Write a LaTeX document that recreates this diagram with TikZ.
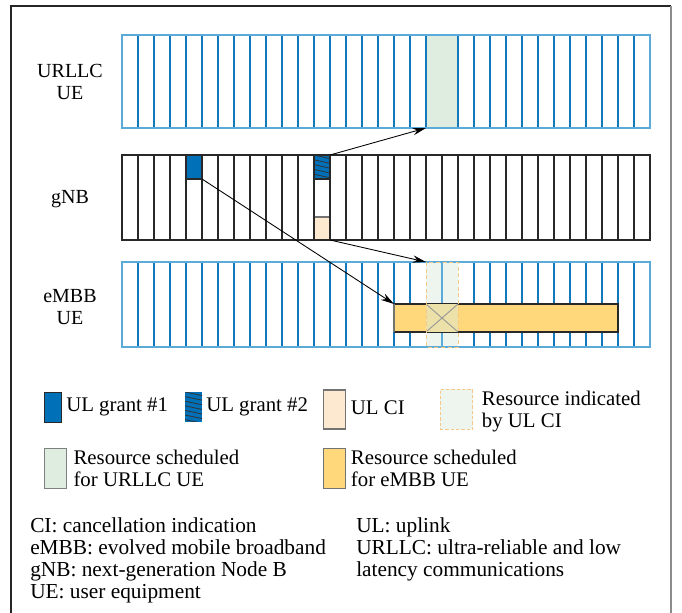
\documentclass[tikz,border=0pt]{standalone}
\usepackage{fontspec}
\setmainfont{Liberation Serif}
\usetikzlibrary{arrows.meta,fit}

\definecolor{uelight}{RGB}{90,170,218}
\definecolor{uedark}{RGB}{20,120,188}
\definecolor{gnbline}{RGB}{40,40,40}
\definecolor{grantblue}{RGB}{0,112,184}
\definecolor{cipeach}{RGB}{253,233,207}
\definecolor{urllcgreen}{RGB}{223,237,224}
\definecolor{cigreen}{RGB}{238,245,238}
\definecolor{ciorange}{RGB}{246,200,135}
\definecolor{embbyellow}{RGB}{254,216,122}
\definecolor{overlapfill}{RGB}{236,225,168}

\tikzset{
  box/.style={inner sep=0pt, outer sep=0pt},
  conn/.style={-{Stealth[length=10pt,width=5.5pt]}, line width=0.65pt, black},
  rowlabel/.style={align=center, inner sep=0pt},
  legtext/.style={anchor=west, align=left, inner sep=0pt, font=\fontsize{15.6}{16.5}\selectfont},
  abbtext/.style={anchor=north west, align=left, inner sep=0pt, font=\fontsize{16}{16.5}\selectfont},
  hatchline/.style={line width=0.6pt, black!80},
  bluegrid/.style={uedark, line width=1.1pt},
  graygrid/.style={gnbline, line width=1.1pt},
}

% cell width (px) and left edge of the time grid
\def\cw{16}
\def\gx{122}

\begin{document}
\begin{tikzpicture}[x=0.75pt, y=-0.75pt, font=\fontsize{15}{16.5}\selectfont]
\useasboundingbox (0,0) rectangle (682,613);

% outer frame
\draw[black!85, line width=0.9pt] (11,613) -- (11,6) -- (671,6);
\draw[black!45, line width=1.4pt] (671,6) -- (671,613);

% ---------------- URLLC UE row ----------------
\path (\gx+19*\cw,35) coordinate (ga) (\gx+21*\cw,128) coordinate (gb);
\node[box, fit=(ga)(gb), fill=urllcgreen] (urllcres) {};
\foreach \i in {1,...,32} {
  \ifnum\i=20\else
    \draw[bluegrid] ({\gx+\i*\cw},35) -- ({\gx+\i*\cw},128);
  \fi
}
\draw[uelight, line width=1.3pt] (\gx,35) rectangle ({\gx+33*\cw},128);
\node[rowlabel] (lurllc) at (70,82) {URLLC\\UE};

% ---------------- gNB row ----------------
\path (\gx+4*\cw,155) coordinate (g1a) (\gx+5*\cw,179) coordinate (g1b);
\node[box, fit=(g1a)(g1b), fill=grantblue] (grant1) {};
\path (\gx+12*\cw,155) coordinate (g2a) (\gx+13*\cw,179) coordinate (g2b);
\node[box, fit=(g2a)(g2b), fill=grantblue] (grant2) {};
\begin{scope}
  \clip (g2a) rectangle (g2b);
  \foreach \k in {-1,...,6}
    \draw[hatchline] ({\gx+12*\cw},{155+\k*4.8}) -- ({\gx+13*\cw},{155+\k*4.8+3.6});
\end{scope}
\draw[gnbline, line width=0.8pt] (g1a |- g1b) -- (g1b);
\draw[gnbline, line width=0.8pt] (g2a |- g2b) -- (g2b);
\path (\gx+12*\cw,217) coordinate (cia) (\gx+13*\cw,240) coordinate (cib);
\node[box, fit=(cia)(cib), fill=cipeach] (ulci) {};
\draw[black!55, line width=0.8pt] (cia) -- (cia -| cib);
\foreach \i in {1,...,32}
  \draw[graygrid] ({\gx+\i*\cw},155) -- ({\gx+\i*\cw},240);
\draw[gnbline, line width=1.2pt] (\gx,155) rectangle ({\gx+33*\cw},240);
\node[rowlabel] (lgnb) at (70,199) {gNB};

% ---------------- eMBB UE row ----------------
\path (\gx+19*\cw,262) coordinate (ia) (\gx+21*\cw,347) coordinate (ib);
\node[box, fit=(ia)(ib), fill=cigreen] (cires) {};
\foreach \i in {1,...,32} {
  \ifnum\i=19\else\ifnum\i=20\else\ifnum\i=21\else
    \draw[bluegrid] ({\gx+\i*\cw},262) -- ({\gx+\i*\cw},347);
  \fi\fi\fi
}
\draw[uelight, line width=1pt] ({\gx+20*\cw},262) -- ({\gx+20*\cw},347);
\draw[uelight, line width=1.3pt] (\gx,262) rectangle ({\gx+33*\cw},347);
% scheduled eMBB resource
\path (\gx+17*\cw,304) coordinate (ea) (\gx+31*\cw,332) coordinate (eb);
\node[box, fit=(ea)(eb), fill=embbyellow] (embbres) {};
\draw[gnbline, line width=0.8pt] (ea) -- (ea -| eb) -- (eb) -- (eb -| ea);
\draw[black!55, line width=1.4pt] (ea) -- (ea |- eb);
% overlap of the indicated resource with the eMBB allocation
\path (ia |- ea) coordinate (oa) (ib |- eb) coordinate (ob);
\node[box, fit=(oa)(ob), fill=overlapfill] (overlap) {};
\draw[black!40, line width=0.7pt] (oa) -- (ob) (oa |- ob) -- (ob |- oa);
\draw[ciorange, dashed, dash pattern=on 3pt off 2pt, line width=0.6pt] (ia) rectangle (ib);
\node[rowlabel] (lembb) at (70,307) {eMBB\\UE};

% connectors
\draw[conn] (grant2.north east) -- (urllcres.south west);
\draw[conn] (grant1.south east) -- (embbres.north west);
\draw[conn] (ulci.south east) -- (cires.north west);

% ---------------- legend ----------------
\path (44.7,392.3) coordinate (k1a) (61.7,422.3) coordinate (k1b);
\node[box, fit=(k1a)(k1b), fill=grantblue, draw=gnbline, line width=0.8pt] (key1) {};
\node[legtext] (t1) at (66,407) {UL grant \#1};

\path (185,392) coordinate (k2a) (202,421.7) coordinate (k2b);
\node[box, fit=(k2a)(k2b), fill=grantblue] (key2) {};
\begin{scope}
  \clip (k2a) rectangle (k2b);
  \foreach \k in {-1,...,7}
    \draw[hatchline] (185,{392+\k*4.6}) -- (202,{392+\k*4.6+3.6});
\end{scope}
\node[legtext] (t2) at (206,407) {UL grant \#2};

\path (323.3,390) coordinate (k3a) (345.7,429) coordinate (k3b);
\node[box, fit=(k3a)(k3b), fill=cipeach, draw=black!55, line width=0.9pt] (key3) {};
\node[legtext] (t3) at (350.7,408) {UL CI};

\path (440,389.3) coordinate (k4a) (472.7,429.3) coordinate (k4b);
\node[box, fit=(k4a)(k4b), fill=cigreen, draw=ciorange, dashed, dash pattern=on 2.5pt off 1.5pt, line width=0.7pt] (key4) {};
\node[legtext] (t4) at (481.7,412) {Resource indicated\\by UL CI};

\path (44.7,448.3) coordinate (k5a) (66.7,488.3) coordinate (k5b);
\node[box, fit=(k5a)(k5b), fill=urllcgreen, draw=black!50, line width=0.9pt] (key5) {};
\node[legtext] (t5) at (73.3,468.5) {Resource scheduled\\for URLLC UE};

\path (323.3,448.3) coordinate (k6a) (345.3,488.3) coordinate (k6b);
\node[box, fit=(k6a)(k6b), fill=embbyellow, draw=black!55, line width=0.9pt] (key6) {};
\node[legtext] (t6) at (350.7,468.5) {Resource scheduled\\for eMBB UE};

% ---------------- abbreviations ----------------
\node[abbtext] (abbl) at (30,517)
  {CI: cancellation indication\\eMBB: evolved mobile broadband\\gNB: next-generation Node B\\UE: user equipment};
\node[abbtext] (abbr) at (356,517)
  {UL: uplink\\URLLC: ultra-reliable and low\\latency communications};
\end{tikzpicture}
\end{document}
